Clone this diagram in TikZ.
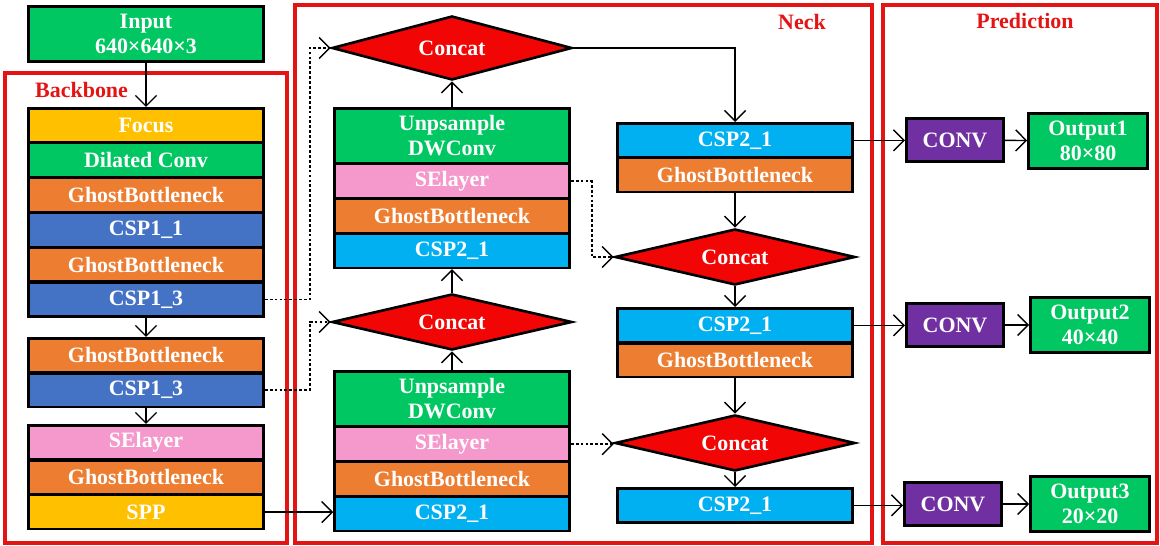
\documentclass[tikz,border=0pt]{standalone}
\usepackage{fontspec}
\setmainfont{Liberation Serif}
\usepackage{tikz}
\usepackage{xcolor}
\usetikzlibrary{shapes, shapes.geometric, arrows.meta, calc, positioning}
\definecolor{yologreen}{rgb}{0, 0.78, 0.38}
\definecolor{yologold}{rgb}{1, 0.753, 0}
\definecolor{yoloorange}{rgb}{0.929, 0.49, 0.192}
\definecolor{yoloblue}{rgb}{0.267, 0.447, 0.769}
\definecolor{yolocyan}{rgb}{0, 0.69, 0.941}
\definecolor{yolopink}{rgb}{0.96, 0.6, 0.8}
\definecolor{yolopurple}{rgb}{0.44, 0.19, 0.63}
\definecolor{yolored}{rgb}{0.95, 0.02, 0.02}
\definecolor{framered}{rgb}{0.9, 0.08, 0.08}
\newcommand{\lbl}{\fontsize{12.5}{14.5}\selectfont\bfseries}

\begin{document}
\begin{tikzpicture}[x=0.02cm, y=-0.02cm,
        layer/.style={draw, line width=1.5pt, text=white, font=\lbl, minimum width=4.7cm, minimum height=0.68cm, inner sep=0pt, align=center},
        tall/.style={layer, minimum height=1.1cm},
        concat/.style={diamond, aspect=4, draw, line width=1.5pt, fill=yolored, text=white, font=\lbl, minimum width=4.8cm, minimum height=1.12cm, inner sep=0pt},
        convbox/.style={draw, line width=1.5pt, fill=yolopurple, text=white, font=\lbl, minimum width=1.95cm, minimum height=0.85cm, inner sep=0pt},
        outbox/.style={draw, line width=1.5pt, fill=yologreen, text=white, font=\lbl, minimum width=2.38cm, minimum height=1.1cm, inner sep=0pt, align=center},
        arr/.style={-{Straight Barb[length=6pt,width=12pt]}, line width=0.8pt},
        dsh/.style={arr, dash pattern=on 1.6pt off 1.2pt},
        frame/.style={draw=framered, line width=1.8pt},
        title/.style={text=framered, font=\lbl}]
    \useasboundingbox (0,0) rectangle (1160,546);

    \draw[frame] (5,73) rectangle (287,543);
    \draw[frame] (295,5) rectangle (872,543);
    \draw[frame] (883,5) rectangle (1157,543);
    \node[title, anchor=west] (T1) at (29,90) {Backbone};
    \node[title] (T2) at (802,22) {Neck};
    \node[title] (T3) at (1025,21) {Prediction};

    \begin{scope}
        \node[tall, fill=yologreen, anchor=north] (I) at (146,5) {Input\\640×640×3};
        \node[layer, fill=yologold, anchor=north] (B1) at (146,107) {Focus};
        \node[layer, fill=yologreen, below=-1pt of B1] (B2) {Dilated Conv};
        \node[layer, fill=yoloorange, below=-1pt of B2] (B3) {GhostBottleneck};
        \node[layer, fill=yoloblue, below=-1pt of B3] (B4) {CSP1\_1};
        \node[layer, fill=yoloorange, below=-1pt of B4] (B5) {GhostBottleneck};
        \node[layer, fill=yoloblue, below=-1pt of B5] (B6) {CSP1\_3};
        \node[layer, fill=yoloorange, anchor=north] (B7) at (146,337) {GhostBottleneck};
        \node[layer, fill=yoloblue, below=-1pt of B7] (B8) {CSP1\_3};
        \node[layer, fill=yolopink, anchor=north] (B9) at (146,424) {SElayer};
        \node[layer, fill=yoloorange, below=-1pt of B9] (B10) {GhostBottleneck};
        \node[layer, fill=yologold, below=-1pt of B10] (B11) {SPP};

        \draw[arr] (I) -- (B1);
        \draw[arr] (B6) -- (B7);
        \draw[arr] (B8) -- (B9);
    \end{scope}

    \begin{scope}
        \node[concat, minimum height=1.28cm] (C1) at (452,48) {Concat};
        \node[tall, fill=yologreen, anchor=north] (NA1) at (452,107) {Unpsample\\DWConv};
        \node[layer, fill=yolopink, below=-1pt of NA1] (NA2) {SElayer};
        \node[layer, fill=yoloorange, below=-1pt of NA2] (NA3) {GhostBottleneck};
        \node[layer, fill=yolocyan, below=-1pt of NA3] (NA4) {CSP2\_1};
        \node[concat] (C2) at (452,322) {Concat};
        \node[tall, fill=yologreen, anchor=north] (NB1) at (452,370) {Unpsample\\DWConv};
        \node[layer, fill=yolopink, below=-1pt of NB1] (NB2) {SElayer};
        \node[layer, fill=yoloorange, below=-1pt of NB2] (NB3) {GhostBottleneck};
        \node[layer, fill=yolocyan, below=-1pt of NB3] (NB4) {CSP2\_1};

        \node[layer, fill=yolocyan, anchor=north] (NC1) at (735,122) {CSP2\_1};
        \node[layer, fill=yoloorange, below=-1pt of NC1] (NC2) {GhostBottleneck};
        \node[concat] (C3) at (735,257) {Concat};
        \node[layer, fill=yolocyan, anchor=north] (ND1) at (735,307) {CSP2\_1};
        \node[layer, fill=yoloorange, below=-1pt of ND1] (ND2) {GhostBottleneck};
        \node[concat] (C4) at (735,443) {Concat};
        \node[layer, fill=yolocyan, anchor=north] (NE1) at (735,487) {CSP2\_1};

        \draw[arr] (B11.east) -- (B11.east -| NB4.west);
        \draw[arr] (NB1) -- (C2);
        \draw[arr] (C2) -- (NA4);
        \draw[arr] (NA1) -- (C1);
        \draw[arr] (C1.east) -| (NC1.north);
        \draw[arr] (NC2) -- (C3);
        \draw[arr] (C3) -- (ND1);
        \draw[arr] (ND2) -- (C4);
        \draw[arr] (C4) -- (NE1);

        \draw[dsh] (B6.east) -- ++(45,0) |- (C1.west);
        \draw[dsh] (B8.east) -- ++(45,0) |- (C2.west);
        \draw[dsh] (NA2.east) -- ++(21,0) |- (C3.west);
        \draw[dsh] (NB2.east) -- (NB2.east -| C4.west);
    \end{scope}

    \begin{scope}
        \node[convbox] (V1) at (955,140) {CONV};
        \node[convbox] (V2) at (955,325) {CONV};
        \node[convbox] (V3) at (953,504) {CONV};
        \node[outbox] (O1) at (1088,141) {Output1\\80×80};
        \node[outbox] (O2) at (1090,325) {Output2\\40×40};
        \node[outbox] (O3) at (1090,504) {Output3\\20×20};

        \draw[arr] (NC1.east) -- (NC1.east -| V1.west);
        \draw[arr] (ND1.east) -- (ND1.east -| V2.west);
        \draw[arr] (NE1.east) -- (NE1.east -| V3.west);
        \draw[arr] (V1) -- (O1);
        \draw[arr] (V2) -- (O2);
        \draw[arr] (V3) -- (O3);
    \end{scope}
\end{tikzpicture}
\end{document}
